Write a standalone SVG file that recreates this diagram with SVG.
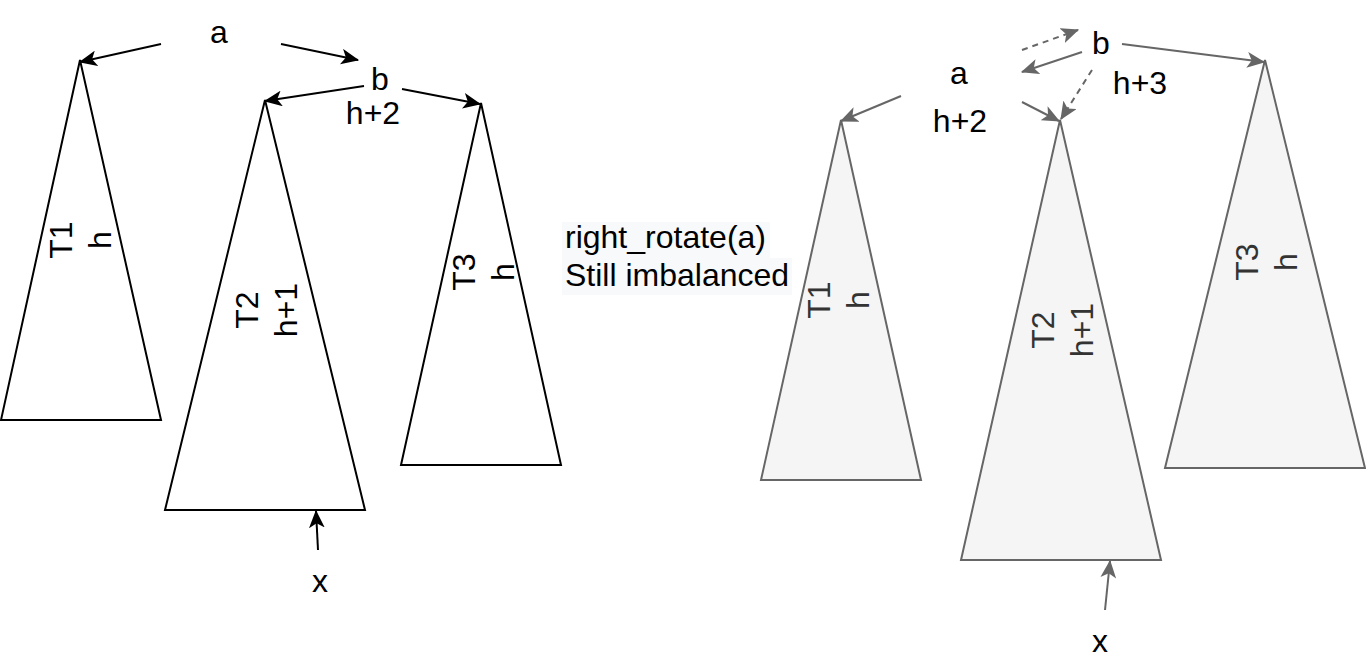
<svg xmlns="http://www.w3.org/2000/svg" width="1366" height="672" viewBox="0 0 1366 672">
<style>
  text { font-family: "Liberation Sans", Arial, sans-serif; font-size: 32px; fill: #000; }
  .tri { fill: #fff; stroke: #000; stroke-width: 2; }
  .tri2 { fill: #f5f5f5; stroke: #666; stroke-width: 2; }
  .lbl2 { fill: #333; }
  .c { fill: none; stroke: #000; stroke-width: 2; }
  .c2 { fill: none; stroke: #666; stroke-width: 2; }
  .dash { stroke-dasharray: 6 5; }
  .bk { marker-end: url(#ab); }
  .gy { marker-end: url(#ag); }
</style>
<defs>
  <marker id="ab" viewBox="0 0 16 14" refX="15" refY="7" markerWidth="18" markerHeight="16" markerUnits="userSpaceOnUse" orient="auto">
    <path d="M0,0 L16,7 L0,14 L4,7 Z" fill="#000"/>
  </marker>
  <marker id="ag" viewBox="0 0 16 14" refX="15" refY="7" markerWidth="18" markerHeight="16" markerUnits="userSpaceOnUse" orient="auto">
    <path d="M0,0 L16,7 L0,14 L4,7 Z" fill="#666"/>
  </marker>
</defs>
<rect width="1366" height="672" fill="#fff"/>

<g id="T1">
  <polygon class="tri" points="80,60 161,420 1,420"/>
  <text transform="translate(80,240) rotate(-90)" text-anchor="middle"><tspan x="0" y="-8.5">T1</tspan><tspan x="0" y="30.5">h</tspan></text>
</g>
<g id="T2">
  <polygon class="tri" points="265,100 365,510 165,510"/>
  <text transform="translate(266,310) rotate(-90)" text-anchor="middle"><tspan x="0" y="-8.5">T2</tspan><tspan x="0" y="30.5">h+1</tspan></text>
</g>
<g id="T3">
  <polygon class="tri" points="481,103 561,465 401,465"/>
  <text transform="translate(483,272) rotate(-90)" text-anchor="middle"><tspan x="0" y="-8.5">T3</tspan><tspan x="0" y="30.5">h</tspan></text>
</g>
<g id="a1"><text x="219" y="43" text-anchor="middle">a</text></g>
<g id="b1"><text x="380" y="90" text-anchor="middle">b</text><text x="373" y="124" text-anchor="middle">h+2</text></g>
<g id="x1"><text x="320" y="592" text-anchor="middle">x</text></g>

<g id="note">
  <rect x="562" y="222" width="208" height="36" fill="#f8f9fa"/>
  <rect x="562" y="258" width="230" height="37" fill="#f8f9fa"/>
  <text x="565" y="248">right_rotate(a)</text>
  <text x="565" y="286">Still imbalanced</text>
</g>

<g id="T1r">
  <polygon class="tri2" points="841,120 921,480 761,480"/>
  <text class="lbl2" transform="translate(838,300) rotate(-90)" text-anchor="middle"><tspan x="0" y="-8.5">T1</tspan><tspan x="0" y="30.5">h</tspan></text>
</g>
<g id="T2r">
  <polygon class="tri2" points="1060,120 1161,560 961,560"/>
  <text class="lbl2" transform="translate(1062,330) rotate(-90)" text-anchor="middle"><tspan x="0" y="-8.5">T2</tspan><tspan x="0" y="30.5">h+1</tspan></text>
</g>
<g id="T3r">
  <polygon class="tri2" points="1265,60 1365,468 1165,468"/>
  <text class="lbl2" transform="translate(1266,262) rotate(-90)" text-anchor="middle"><tspan x="0" y="-8.5">T3</tspan><tspan x="0" y="30.5">h</tspan></text>
</g>
<g id="a2"><text x="959" y="84" text-anchor="middle">a</text><text x="960" y="132" text-anchor="middle">h+2</text></g>
<g id="b2"><text x="1101" y="54" text-anchor="middle">b</text><text x="1140" y="94" text-anchor="middle">h+3</text></g>
<g id="x2"><text x="1100" y="652" text-anchor="middle">x</text></g>

<g id="connectors">
  <line class="c bk" x1="161" y1="44" x2="80" y2="62"/>
  <line class="c bk" x1="281" y1="44" x2="358" y2="60"/>
  <line class="c bk" x1="364" y1="86" x2="265" y2="101"/>
  <line class="c bk" x1="402" y1="89" x2="480" y2="104"/>
  <line class="c bk" x1="318" y1="550" x2="316" y2="511"/>

  <line class="c2 gy dash" x1="1022" y1="50" x2="1078" y2="30"/>
  <line class="c2 gy" x1="1082" y1="52" x2="1022" y2="72"/>
  <line class="c2 gy" x1="901" y1="96" x2="841" y2="121"/>
  <line class="c2 gy" x1="1022" y1="102" x2="1059" y2="121"/>
  <line class="c2 gy dash" x1="1092" y1="70" x2="1061" y2="119"/>
  <line class="c2 gy" x1="1122" y1="44" x2="1264" y2="62"/>
  <line class="c2 gy" x1="1105" y1="610" x2="1110" y2="561"/>
</g>
</svg>
